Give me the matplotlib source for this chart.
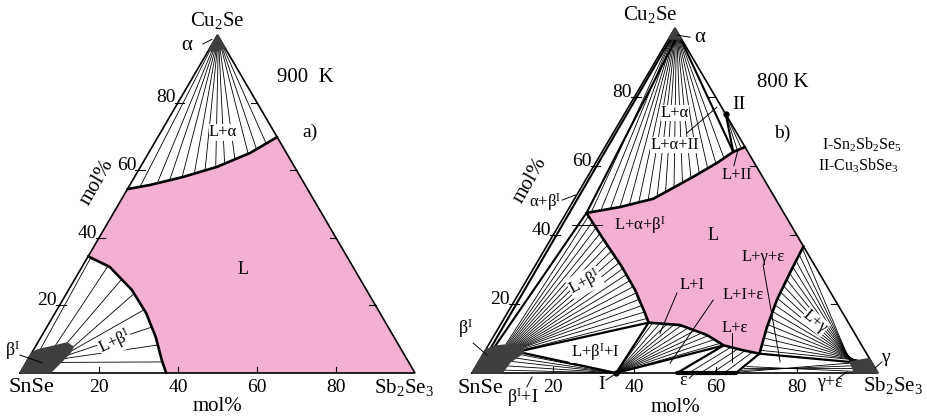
import numpy as np
import matplotlib.pyplot as plt

plt.rcParams['font.family'] = ['Liberation Serif', 'DejaVu Serif']
plt.rcParams['mathtext.fontset'] = 'custom'
plt.rcParams['mathtext.rm'] = 'Liberation Serif'
plt.rcParams['mathtext.it'] = 'Liberation Serif:italic'

PINK = '#f3b0d2'
DARK = '#3f3f3f'
H = np.sqrt(3) / 2
TICKS = [20, 40, 60, 80]
B1 = r'β$^\mathrm{I}$'

# compositions are (mol% Sb2Se3, mol% Cu2Se); SnSe is the rest

# ---- a) 900 K ----
alpha_900 = [(0, 100), (0, 95.5), (2, 95), (3.8, 96.2)]
alpha_base_900 = [(0, 95.5), (2, 95), (3.8, 96.2)]
beta_900 = [(0, 0), (0, 5.9), (1, 6.8), (7.5, 8.9), (9.6, 7.7), (9.7, 5.9), (7.6, 0)]
beta_edge_900 = [(1, 6.8), (7.5, 8.9), (9.6, 7.7), (9.7, 5.9), (8.5, 2.5)]
liq_alpha_900 = [(0, 54.4), (5, 55.6), (12.3, 58), (19.4, 61), (25.7, 65.1), (30.2, 69.8)]
liq_beta_900 = [(0, 34.5), (7, 31.4), (16, 24.6), (23, 17.8), (29, 10.7), (34, 3.8), (37, 0)]
tie_alpha_900 = [0.08, 0.19, 0.27, 0.35, 0.43, 0.50, 0.57, 0.63, 0.70, 0.79, 0.85, 0.92]
tie_beta_src_900 = [0.05, 0.3, 0.5, 0.62, 0.7, 0.78, 0.86, 0.95]
tie_beta_900 = [0.02, 0.15, 0.28, 0.41, 0.54, 0.67, 0.8, 0.92]

# ---- b) 800 K ----
alpha_800 = [(0, 100), (0, 96.8), (3.2, 96.8)]
alpha_base_800 = [(0.5, 96.8), (3, 96.8)]
beta_800 = [(0, 0), (0, 6.7), (1.8, 7.8), (6.4, 8.4), (9, 7.5), (9.7, 5.8), (7.8, 3.2), (7.4, 0)]
beta_top_800 = [(4, 8.3), (9, 7.5), (9.6, 6.6)]
beta_low_800 = [(9.7, 5.8), (7.8, 3.2), (7.4, 0)]
gamma_800 = [(91.5, 3.2), (95.8, 4.2), (100, 0), (94.3, 0)]
gamma_top_800 = [(91.5, 3.2), (93.5, 3.7)]
gamma_left_800 = [(91.5, 3.2), (94.3, 0)]
eps_800 = [(50.5, 0), (65, 0)]
comp_I = (35.5, 0)
comp_II = (25, 75)
liq_alpha_800 = [(5, 46.4), (12.4, 48.1), (19.4, 50.5), (26, 56.8), (29.9, 60.9), (32.3, 64.1)]
liq_II_800 = [(32.3, 64.1), (34.5, 65.5)]
liq_gamma_800 = [(63.3, 36.7), (63.8, 29), (64.5, 21.2), (66, 13.3), (68, 5.6)]
liq_eps_800 = [(58, 8), (63, 6.7), (68, 5.6)]
liq_I_800 = [(36.2, 14.6), (44.3, 13.9), (52.4, 11), (58, 8)]
liq_beta_800 = [(5, 46.4), (12.3, 39.4), (21.6, 30.7), (28.1, 24.1), (33.9, 17.4), (36.2, 14.6)]
tie_alpha_800 = [0.03, 0.09, 0.15, 0.21, 0.27, 0.33, 0.39, 0.45, 0.51, 0.57, 0.63, 0.69,
                 0.75, 0.81, 0.87, 0.93]
tie_beta_800 = [0.03, 0.085, 0.14, 0.195, 0.25, 0.305, 0.36, 0.415, 0.47, 0.525, 0.58,
                0.635, 0.69, 0.745, 0.80, 0.855, 0.91, 0.965]
tie_bi_800 = [0.1, 0.3, 0.5, 0.7, 0.88]
tie_I_800 = [0.05, 0.14, 0.23, 0.32, 0.41, 0.5, 0.59, 0.68, 0.77, 0.86, 0.95]
tie_eps_800 = [0.2, 0.4, 0.6, 0.8]
tie_gamma_800 = [0.02, 0.08, 0.14, 0.2, 0.26, 0.32, 0.38, 0.44, 0.5, 0.56, 0.62, 0.68,
                 0.74, 0.8, 0.86, 0.92, 0.97]
tie_ge_800 = [0.1, 0.35, 0.6, 0.85]
tie_II_800 = [0.35, 0.7]


def cart(pts):
    p = np.asarray(pts, float).reshape(-1, 2) / 100
    return p[:, 0] + p[:, 1] / 2, p[:, 1] * H


def along(pts, t):
    x, y = cart(pts)
    if len(x) == 1:
        t = np.asarray(t, float)
        return np.full(t.shape, x[0]), np.full(t.shape, y[0])
    s = np.r_[0, np.cumsum(np.hypot(np.diff(x), np.diff(y)))]
    s /= s[-1]
    return np.interp(t, s, x), np.interp(t, s, y)


def ties(ax, src, dst, t_src, t_dst, lw=0.6):
    xs, ys = along(src, t_src)
    xd, yd = along(dst, t_dst)
    for i in range(len(xd)):
        ax.plot([xs[i], xd[i]], [ys[i], yd[i]], color='k', lw=lw, zorder=2,
                clip_on=False, solid_capstyle='butt')


def line(ax, pts, lw=1.7):
    x, y = cart(pts)
    ax.plot(x, y, color='k', lw=lw, zorder=3, clip_on=False,
            solid_capstyle='round', solid_joinstyle='round')


def blob(ax, pts):
    x, y = cart(pts)
    ax.fill(x, y, color=DARK, zorder=4, clip_on=False)


def label(ax, x, y, s, size=12, rot=0, box=False, **kw):
    bbox = dict(fc='white', ec='none', pad=0.3) if box else None
    ax.text(x, y, s, fontsize=size, rotation=rot, ha=kw.pop('ha', 'center'),
            va=kw.pop('va', 'center'), bbox=bbox, zorder=5, **kw)


def leader(ax, x0, y0, x1, y1):
    ax.plot([x0, x1], [y0, y1], color='k', lw=0.7, zorder=5, clip_on=False)


def frame(ax, mol_left):
    x, y = cart([(0, 0), (100, 0), (0, 100), (0, 0)])
    ax.plot(x, y, color='k', lw=1.2, zorder=3, clip_on=False, solid_joinstyle='miter')
    for v in TICKS:
        bx, _ = cart([(v, 0)])
        ax.plot([bx[0], bx[0]], [0, 0.016], color='k', lw=0.8, zorder=3)
        lx, ly = cart([(0, v)])
        ax.plot([lx[0] - 0.008, lx[0] + 0.016], [ly[0], ly[0]], color='k', lw=0.8,
                zorder=3, clip_on=False)
        rx, ry = cart([(100 - v, v)])
        ax.plot([rx[0] - 0.016, rx[0]], [ry[0], ry[0]], color='k', lw=0.8, zorder=3)
        ax.text(bx[0], -0.036, str(v), fontsize=14, ha='center', va='center')
        ax.text(lx[0] - 0.006, ly[0] + 0.012, str(v), fontsize=14, ha='right',
                va='center')
    ax.text(0.5, -0.086, 'mol%', fontsize=15, ha='center', va='center')
    ax.text(mol_left[0], mol_left[1], 'mol%', fontsize=15, ha='center', va='center',
            rotation=60)


fig = plt.figure(figsize=(9.27, 4.17), dpi=100)


def tri_axes(left, right, bottom, top):
    ax = fig.add_axes([left / 927, (417 - bottom) / 417, (right - left) / 927,
                       (bottom - top) / 417])
    ax.set_xlim(0, 1)
    ax.set_ylim(0, H)
    ax.axis('off')
    return ax


# ================= a) =================
ax = tri_axes(20, 415, 373, 35)
px, py = cart([(0, 34.5)] + liq_alpha_900 + [(100, 0)] + liq_beta_900[::-1])
ax.fill(px, py, color=PINK, lw=0, zorder=1)
ties(ax, alpha_base_900, liq_alpha_900, tie_alpha_900, tie_alpha_900)
ties(ax, beta_edge_900, liq_beta_900, tie_beta_src_900, tie_beta_900)
line(ax, liq_alpha_900, 1.9)
line(ax, liq_beta_900, 1.9)
blob(ax, alpha_900)
blob(ax, beta_900)
frame(ax, (0.195, 0.489))
label(ax, 0.499, 0.904, 'Cu$_2$Se', 15)
label(ax, 0.03, -0.038, 'SnSe', 16)
label(ax, 0.972, -0.038, 'Sb$_2$Se$_3$', 15)
label(ax, 0.423, 0.840, 'α', 15)
leader(ax, 0.463, 0.843, 0.486, 0.855)
label(ax, 0.722, 0.756, '900  K', 15)
label(ax, 0.734, 0.617, 'a)', 14)
label(ax, 0.514, 0.617, 'L+α', 12, box=True)
label(ax, 0.565, 0.264, 'L', 13)
label(ax, 0.24, 0.079, 'L+' + B1, 12, rot=25, box=True)
label(ax, -0.018, 0.058, B1, 13)
leader(ax, 0.0, 0.046, 0.056, 0.026)

# ================= b) =================
ax = tri_axes(472, 878, 373, 28)
px, py = cart(liq_alpha_800 + liq_II_800[1:] + liq_gamma_800 + liq_eps_800[::-1][1:]
              + liq_I_800[::-1][1:] + liq_beta_800[::-1][1:])
ax.fill(px, py, color=PINK, lw=0, zorder=1)
ties(ax, alpha_base_800, liq_alpha_800, tie_alpha_800, tie_alpha_800)
ties(ax, beta_top_800, liq_beta_800, tie_beta_800, tie_beta_800)
ties(ax, [comp_I], beta_low_800, tie_bi_800, tie_bi_800)
ties(ax, [comp_I], liq_I_800, tie_I_800, tie_I_800)
ties(ax, eps_800, liq_eps_800, tie_eps_800, tie_eps_800)
ties(ax, gamma_top_800, liq_gamma_800, tie_gamma_800, tie_gamma_800)
ties(ax, gamma_left_800, [(65, 0), (67, 2.2)], tie_ge_800, tie_ge_800)
ties(ax, [comp_II], liq_II_800, tie_II_800, tie_II_800)
for curve in (liq_alpha_800, liq_II_800, liq_gamma_800, liq_eps_800, liq_I_800,
              liq_beta_800):
    line(ax, curve, 1.9)
line(ax, [alpha_base_800[0], (1.0, 7.2)], 1.5)
line(ax, [(1.8, 96.8), liq_alpha_800[0], beta_800[2]], 1.5)
line(ax, [alpha_base_800[1], liq_alpha_800[-1]], 1.5)
line(ax, [comp_II, liq_alpha_800[-1]], 1.5)
line(ax, [beta_top_800[-1], liq_I_800[0], comp_I, beta_low_800[0]], 1.6)
line(ax, [comp_I, liq_eps_800[0], eps_800[0]], 1.6)
line(ax, [eps_800[1], liq_eps_800[-1], gamma_800[0]], 1.6)
line(ax, eps_800, 3)
blob(ax, alpha_800)
blob(ax, beta_800)
blob(ax, gamma_800)
for c in (comp_I, comp_II):
    cx, cy = cart([c])
    ax.plot(cx, cy, 'o', color='k', ms=3.5, zorder=6, clip_on=False)
frame(ax, (0.143, 0.484))
label(ax, 0.438, 0.899, 'Cu$_2$Se', 15)
label(ax, 0.02, -0.038, 'SnSe', 16)
label(ax, 1.037, -0.032, 'Sb$_2$Se$_3$', 15)
label(ax, 0.562, 0.841, 'α', 15)
leader(ax, 0.505, 0.848, 0.537, 0.843)
label(ax, 0.766, 0.728, '800 K', 15)
label(ax, 0.764, 0.602, 'b)', 14)
label(ax, 0.961, 0.574, 'I-Sn$_2$Sb$_2$Se$_5$', 11.5)
label(ax, 0.951, 0.52, 'II-Cu$_3$SbSe$_3$', 11.5)
label(ax, 0.64, 0.673, 'II', 14, ha='left')
label(ax, 0.5, 0.653, 'L+α', 12, box=True)
label(ax, 0.5, 0.572, 'L+α+II', 12, box=True)
leader(ax, 0.529, 0.602, 0.603, 0.667)
label(ax, 0.653, 0.497, 'L+II', 12)
leader(ax, 0.645, 0.52, 0.655, 0.56)
label(ax, 0.594, 0.346, 'L', 13)
label(ax, 0.414, 0.371, 'L+α+' + B1, 12)
leader(ax, 0.246, 0.371, 0.32, 0.371)
label(ax, 0.717, 0.291, 'L+γ+ε', 12)
leader(ax, 0.717, 0.271, 0.759, 0.028)
label(ax, 0.542, 0.221, 'L+I', 12)
leader(ax, 0.505, 0.201, 0.463, 0.1)
label(ax, 0.667, 0.196, 'L+I+ε', 12)
leader(ax, 0.594, 0.183, 0.488, 0.025)
label(ax, 0.648, 0.113, 'L+ε', 12)
leader(ax, 0.640, 0.1, 0.640, 0.028)
label(ax, 0.278, 0.228, 'L+' + B1, 12, rot=28, box=True)
label(ax, 0.18, 0.43, 'α+' + B1, 12)
leader(ax, 0.222, 0.434, 0.255, 0.447)
label(ax, 0.303, 0.053, 'L+' + B1 + '+I', 12, box=True)
label(ax, -0.015, 0.112, B1, 13)
leader(ax, 0.003, 0.075, 0.037, 0.045)
label(ax, 0.126, -0.06, B1 + '+I', 13)
leader(ax, 0.135, -0.035, 0.148, -0.01)
label(ax, 0.32, -0.03, 'I', 14)
leader(ax, 0.33, -0.018, 0.356, 0)
label(ax, 0.52, -0.018, 'ε', 13)
leader(ax, 0.535, -0.013, 0.555, 0.005)
label(ax, 0.882, -0.025, 'γ+ε', 13)
leader(ax, 0.902, -0.013, 0.924, 0.003)
label(ax, 1.017, 0.038, 'γ', 14)
leader(ax, 0.993, 0.013, 1.01, 0.028)
label(ax, 0.845, 0.128, 'L+γ', 12, rot=-40, box=True)

fig.savefig('out.png', dpi=100)
